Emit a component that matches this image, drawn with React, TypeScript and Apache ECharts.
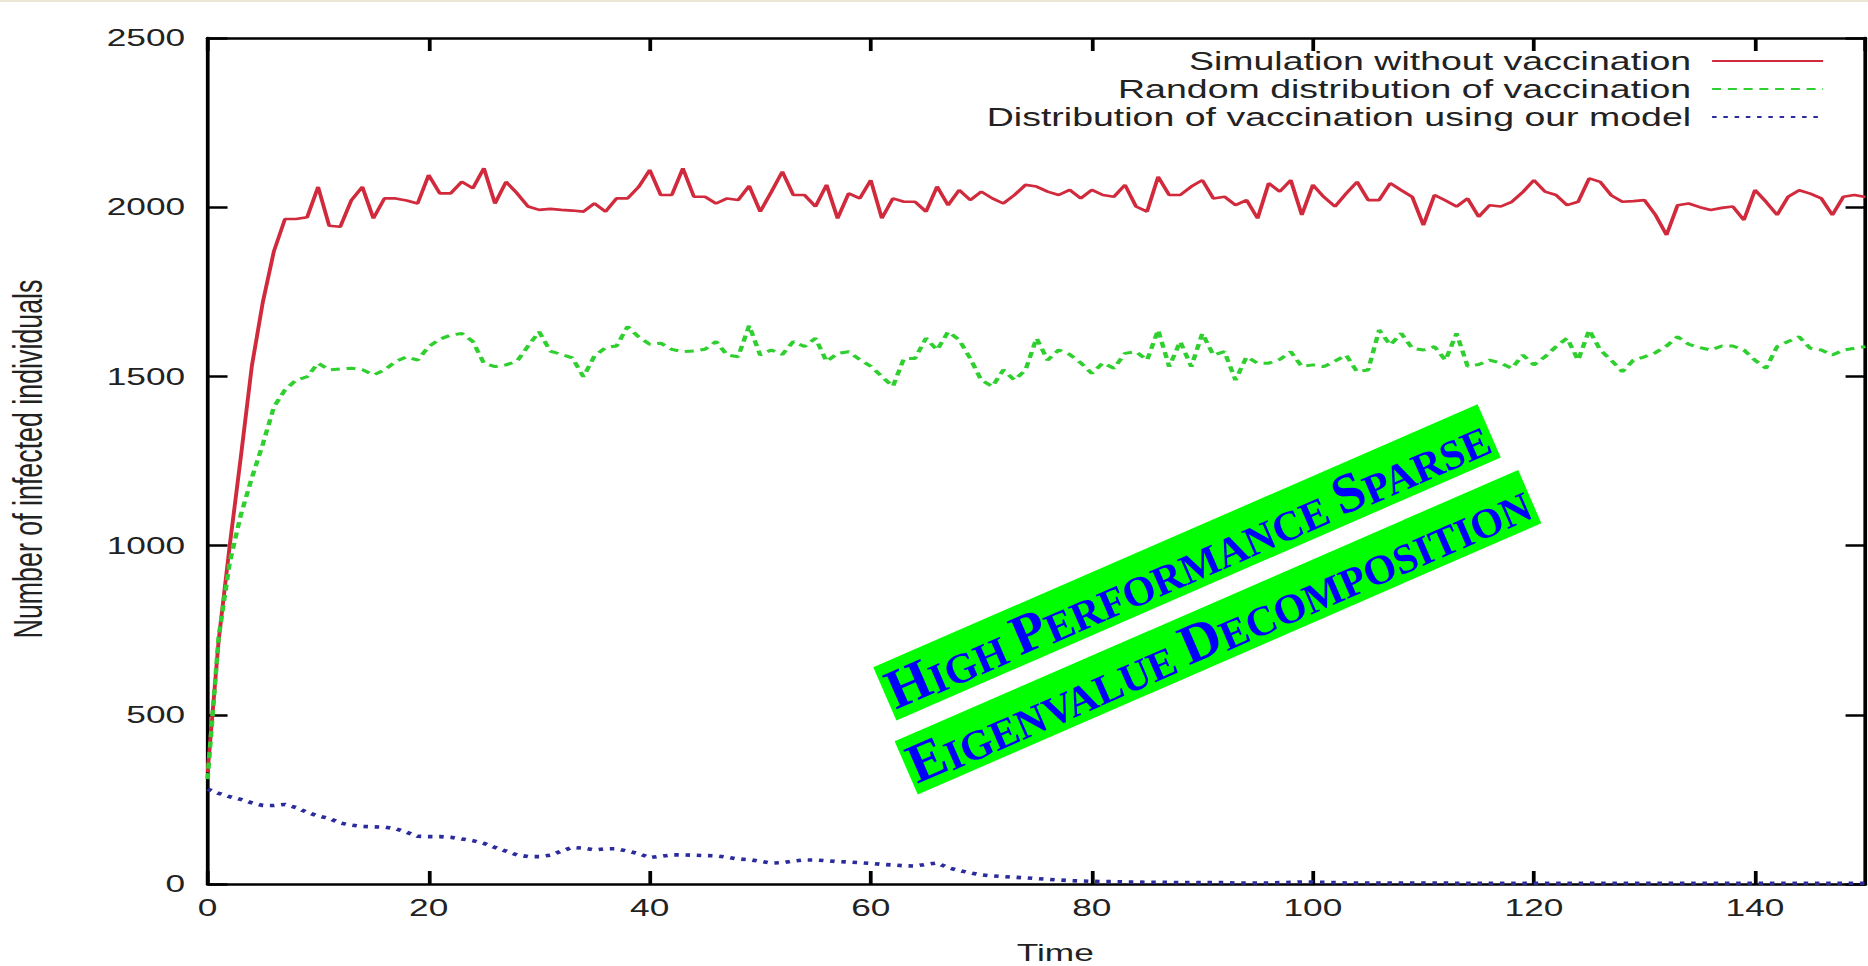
import React, { useEffect, useRef } from "react";
import * as echarts from "echarts";

// ---------------- data ----------------
const SERIES_NAMES = [
  "Simulation without vaccination",
  "Random distribution of vaccination",
  "Distribution of vaccination using our model",
];

const X_TICKS = [0, 20, 40, 60, 80, 100, 120, 140];
const Y_TICKS = [0, 500, 1000, 1500, 2000, 2500];

// infected individuals at time steps 0..150
const NO_VACCINATION = [
  330, 720, 1000, 1260, 1530, 1720, 1870, 1965, 1965, 1970,
  2060, 1945, 1942, 2020, 2060, 1967, 2026, 2026, 2020, 2011,
  2095, 2041, 2041, 2075, 2056, 2115, 2011, 2075, 2041, 2002,
  1992, 1995, 1992, 1990, 1987, 2011, 1987, 2026, 2026, 2060,
  2110, 2036, 2036, 2115, 2031, 2031, 2011, 2026, 2021, 2063,
  1987, 2045, 2105, 2036, 2036, 2002, 2066, 1967, 2041, 2026,
  2080, 1967, 2026, 2016, 2016, 1987, 2061, 2006, 2051, 2021,
  2046, 2026, 2011, 2036, 2066, 2061, 2046, 2036, 2051, 2026,
  2051, 2036, 2031, 2066, 2002, 1987, 2090, 2036, 2036, 2061,
  2080, 2026, 2031, 2006, 2021, 1967, 2071, 2046, 2080, 1977,
  2066, 2030, 2002, 2040, 2075, 2021, 2021, 2071, 2050, 2030,
  1947, 2036, 2020, 2002, 2026, 1972, 2006, 2002, 2016, 2045,
  2080, 2046, 2036, 2006, 2016, 2085, 2075, 2035, 2016, 2018,
  2021, 1977, 1918, 2006, 2011, 2000, 1992, 1998, 2002, 1962,
  2051, 2016, 1977, 2031, 2050, 2040, 2026, 1977, 2031, 2036,
  2030,
];

const RANDOM_VACCINATION = [
  310, 730, 950, 1090, 1200, 1300, 1410, 1460, 1489, 1499,
  1539, 1519, 1522, 1524, 1520, 1504, 1519, 1544, 1558, 1548,
  1588, 1610, 1622, 1627, 1603, 1539, 1529, 1534, 1545, 1590,
  1632, 1575, 1565, 1555, 1499, 1560, 1585, 1590, 1647, 1617,
  1595, 1598, 1580, 1573, 1575, 1580, 1603, 1563, 1558, 1650,
  1563, 1578, 1565, 1603, 1588, 1613, 1544, 1568, 1573, 1550,
  1530, 1500, 1470, 1553, 1553, 1613, 1578, 1632, 1608, 1553,
  1489, 1470, 1519, 1489, 1519, 1613, 1548, 1578, 1565, 1540,
  1509, 1540, 1524, 1568, 1573, 1548, 1637, 1529, 1603, 1529,
  1627, 1563, 1573, 1489, 1558, 1539, 1539, 1550, 1573, 1529,
  1534, 1529, 1545, 1563, 1514, 1519, 1637, 1593, 1627, 1583,
  1578, 1588, 1548, 1627, 1530, 1535, 1548, 1539, 1524, 1563,
  1534, 1558, 1588, 1613, 1548, 1637, 1578, 1548, 1514, 1548,
  1558, 1570, 1590, 1617, 1595, 1585, 1578, 1590, 1590, 1578,
  1548, 1524, 1588, 1603, 1617, 1583, 1578, 1563, 1578, 1583,
  1588,
];

const MODEL_VACCINATION = [
  280, 268, 258, 250, 240, 232, 232, 235, 226, 212,
  201, 194, 180, 174, 170, 169, 168, 163, 153, 141,
  140, 140, 138, 133, 128, 120, 108, 97, 86, 81,
  81, 85, 97, 108, 106, 101, 104, 104, 97, 90,
  78, 82, 86, 86, 85, 84, 83, 79, 74, 72,
  67, 62, 63, 68, 71, 71, 69, 66, 65, 63,
  61, 58, 56, 54, 53, 58, 62, 48, 40, 33,
  27, 24, 22, 20, 18, 16, 14, 12, 10, 9,
  8, 7, 7, 6, 6, 5, 5, 5, 4, 4,
  4, 4, 4, 3, 3, 3, 3, 4, 5, 6,
  6, 5, 4, 3, 3, 3, 3, 3, 3, 3,
  3, 3, 3, 2, 2, 2, 2, 2, 2, 2,
  2, 2, 2, 2, 2, 2, 2, 2, 2, 2,
  2, 2, 2, 2, 2, 2, 2, 2, 2, 2,
  2, 2, 2, 2, 2, 2, 2, 2, 2, 2,
  2,
];

const WATERMARK_LINES = [
  [["H", "IGH"], ["P", "ERFORMANCE"], ["S", "PARSE"]],
  [["E", "IGENVALUE"], ["D", "ECOMPOSITION"]],
];

// ---------------- layout / style ----------------
const W = 1868;
const H = 966;
const SX = 1.5; // the original figure is stretched horizontally
const CW = W / SX;
const FONT = "'Liberation Sans', Arial, Helvetica, sans-serif";
const SERIF = "'Liberation Serif', 'Times New Roman', serif";
const AXIS_COLOR = "#000";
const TEXT_COLOR = "#222";
const COLORS = ["#d02a3c", "#2fcf2f", "#2b2b9e"];

const toPoints = (arr: number[]) => arr.map((v, i) => [i, v]);

const axisLineStyle = { color: AXIS_COLOR, width: 2.5 };

function mainOption(): any {
  const xCommon = {
    type: "value",
    min: 0,
    max: 150,
    interval: 20,
    splitLine: { show: false },
    axisLine: { show: true, onZero: false, lineStyle: axisLineStyle },
    axisTick: { show: true, inside: true, length: 13, lineStyle: axisLineStyle },
  };
  const yCommon = {
    type: "value",
    min: 0,
    max: 2500,
    interval: 500,
    splitLine: { show: false },
    axisLine: { show: true, onZero: false, lineStyle: axisLineStyle },
    axisTick: { show: true, inside: true, length: 13.3, lineStyle: axisLineStyle },
  };
  return {
    animation: false,
    backgroundColor: "#ffffff",
    grid: {
      left: 138.4,
      right: 1.33,
      top: 38,
      bottom: 82,
      containLabel: false,
      outerBoundsMode: "none",
    },
    legend: {
      data: SERIES_NAMES,
      orient: "vertical",
      align: "right",
      right: 28.6,
      top: 48.5,
      padding: 0,
      itemWidth: 74,
      itemHeight: 14,
      itemGap: 3,
      selectedMode: false,
      itemStyle: { color: "rgba(0,0,0,0)", borderColor: "rgba(0,0,0,0)", borderWidth: 0, opacity: 0 },
      textStyle: {
        fontFamily: FONT,
        fontSize: 25,
        lineHeight: 20,
        color: TEXT_COLOR,
        padding: [0, 9, 0, 0],
      },
    },
    xAxis: [
      {
        ...xCommon,
        position: "bottom",
        axisLabel: {
          show: true,
          margin: 12,
          showMaxLabel: false,
          fontFamily: FONT,
          fontSize: 23.5,
          color: TEXT_COLOR,
          formatter: (v: number) => (X_TICKS.includes(v) ? String(v) : ""),
        },
      },
      { ...xCommon, position: "top", axisLabel: { show: false } },
    ],
    yAxis: [
      {
        ...yCommon,
        position: "left",
        axisLabel: {
          show: true,
          margin: 15,
          fontFamily: FONT,
          fontSize: 23.5,
          color: TEXT_COLOR,
          formatter: (v: number) => (Y_TICKS.includes(v) ? String(v) : ""),
        },
      },
      { ...yCommon, position: "right", axisLabel: { show: false } },
    ],
    graphic: [
      {
        type: "text",
        x: 18.7,
        y: 459,
        rotation: Math.PI / 2,
        style: {
          text: "Number of infected individuals",
          fontFamily: FONT,
          fontSize: 26.8,
          fill: TEXT_COLOR,
          align: "center",
          verticalAlign: "middle",
        },
      },
      {
        type: "text",
        x: 703.5,
        y: 953,
        style: {
          text: "Time",
          fontFamily: FONT,
          fontSize: 23.5,
          fill: TEXT_COLOR,
          align: "center",
          verticalAlign: "middle",
        },
      },
    ],
    series: [
      {
        name: SERIES_NAMES[0],
        type: "line",
        xAxisIndex: 0,
        yAxisIndex: 0,
        data: toPoints(NO_VACCINATION),
        symbol: "none",
        showSymbol: false,
        color: COLORS[0],
        lineStyle: { color: COLORS[0], width: 2.6 },
        z: 2,
      },
      {
        name: SERIES_NAMES[1],
        type: "line",
        xAxisIndex: 0,
        yAxisIndex: 0,
        data: toPoints(RANDOM_VACCINATION),
        symbol: "none",
        showSymbol: false,
        color: COLORS[1],
        lineStyle: { color: COLORS[1], width: 3, type: [6, 4.5] },
        z: 3,
      },
      {
        name: SERIES_NAMES[2],
        type: "line",
        xAxisIndex: 0,
        yAxisIndex: 0,
        data: toPoints(MODEL_VACCINATION),
        symbol: "none",
        showSymbol: false,
        color: COLORS[2],
        lineStyle: { color: COLORS[2], width: 3.6, type: [3, 4.5] },
        z: 4,
      },
    ],
  };
}

function watermarkOption(): any {
  const ang = (23.5 * Math.PI) / 180;
  const boxes = [
    { cx: 1187, cy: 562.4, len: 659 },
    { cx: 1218, cy: 632.3, len: 680 },
  ];
  const groups = WATERMARK_LINES.map((words, i) => {
    const b = boxes[i];
    const text = words.map(([a, rest]) => `{b|${a}}{s|${rest}}`).join("{sp| }");
    return {
      type: "group",
      x: b.cx,
      y: b.cy,
      rotation: ang,
      children: [
        {
          type: "rect",
          shape: { x: -b.len / 2, y: -29, width: b.len, height: 58 },
          style: { fill: "#00ff00" },
        },
        {
          type: "text",
          x: 0,
          y: 0,
          style: {
            text,
            align: "center",
            verticalAlign: "middle",
            fontFamily: SERIF,
            fontWeight: "bold",
            fontSize: 42,
            fill: "#0000ff",
            rich: {
              b: {
                fontFamily: SERIF,
                fontWeight: "bold",
                fontSize: 56,
                lineHeight: 56,
                verticalAlign: "bottom",
                fill: "#0000ff",
              },
              s: {
                fontFamily: SERIF,
                fontWeight: "bold",
                fontSize: 42,
                lineHeight: 46.6,
                verticalAlign: "bottom",
                fill: "#0000ff",
              },
              sp: {
                fontFamily: SERIF,
                fontWeight: "bold",
                fontSize: 42,
                lineHeight: 46.6,
                verticalAlign: "bottom",
                fill: "#0000ff",
              },
            },
          },
        },
      ],
    };
  });
  return {
    animation: false,
    backgroundColor: "transparent",
    graphic: [
      {
        type: "rect",
        shape: { x: 0, y: 0, width: W, height: 2 },
        style: { fill: "#ece7d4" },
      },
      ...groups,
    ],
  };
}

export default function App() {
  const mainRef = useRef<HTMLDivElement>(null);
  const overlayRef = useRef<HTMLDivElement>(null);

  useEffect(() => {
    const main = echarts.init(mainRef.current!, null, { renderer: "svg" });
    const overlay = echarts.init(overlayRef.current!, null, { renderer: "svg" });
    main.setOption(mainOption());
    overlay.setOption(watermarkOption());
    return () => {
      main.dispose();
      overlay.dispose();
    };
  }, []);

  return (
    <>
      <div
        ref={mainRef}
        style={{
          position: "fixed",
          left: 0,
          top: 0,
          width: CW,
          height: H,
          transform: `scaleX(${SX})`,
          transformOrigin: "0 0",
          background: "#fff",
        }}
      />
      <div
        ref={overlayRef}
        style={{
          position: "fixed",
          left: 0,
          top: 0,
          width: W,
          height: H,
          pointerEvents: "none",
        }}
      />
    </>
  );
}
